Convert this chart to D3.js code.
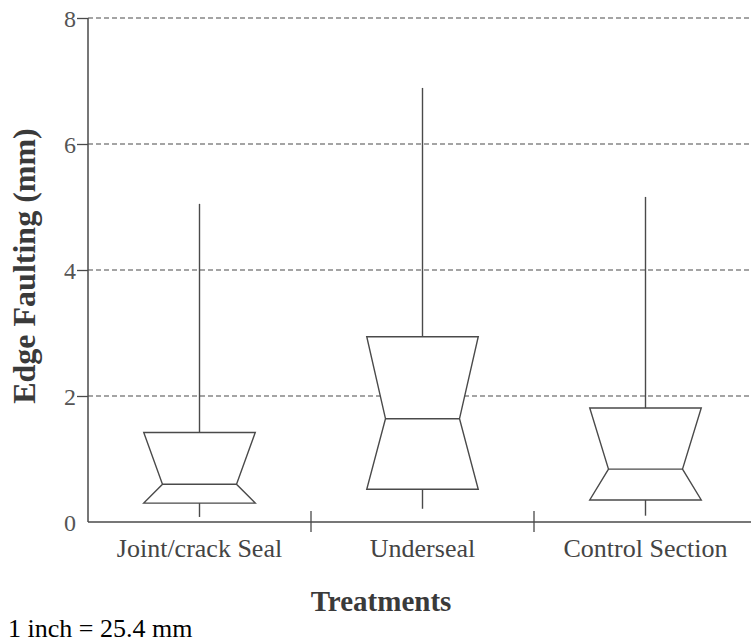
<!DOCTYPE html>
<html>
<head>
<meta charset="utf-8">
<script src="https://cdn.jsdelivr.net/npm/d3@7"></script>
<style>
  html, body { margin: 0; padding: 0; background: #fff; }
  svg { display: block; }
</style>
</head>
<body>
<div id="chart"></div>
<script>
// ---- data ----
const categories = ["Joint/crack Seal", "Underseal", "Control Section"];
const whiskerMin = [0.08, 0.21, 0.10];
const q1 = [0.30, 0.52, 0.35];
const median = [0.60, 1.64, 0.84];
const q3 = [1.42, 2.94, 1.81];
const whiskerMax = [5.05, 6.89, 5.16];
const yTicks = [0, 2, 4, 6, 8];
const gridTicks = [2, 4, 6, 8];

const W = 751, H = 643;
const svg = d3.select("#chart").append("svg").attr("width", W).attr("height", H);

const x = d3.scaleBand().domain(categories).range([88, 757]).paddingInner(0).paddingOuter(0);
const y = d3.scaleLinear().domain([0, 8]).range([522, 18]);

const lineColor = "#4a4a4a";
const textColor = "#3a3a3a";
const serif = "'Liberation Serif', 'Times New Roman', serif";

// gridlines
svg.append("g").selectAll("line").data(gridTicks).join("line")
  .attr("x1", 88).attr("x2", W)
  .attr("y1", d => y(d)).attr("y2", d => y(d))
  .attr("stroke", lineColor).attr("stroke-width", 1.2)
  .attr("stroke-dasharray", "5,3");

// y axis
const yAxis = d3.axisLeft(y).tickValues(yTicks).tickSize(11).tickPadding(2).tickFormat(d3.format("d"));
const gy = svg.append("g").attr("transform", "translate(88,0)").call(yAxis);
gy.select(".domain").attr("stroke", lineColor).attr("stroke-width", 1.5).attr("d", `M0,${y(8)}V${y(0)}`);
gy.selectAll(".tick line").attr("stroke", lineColor).attr("stroke-width", 1.3)
  .attr("display", d => d === 0 ? "none" : null);
gy.selectAll(".tick text").attr("font-family", serif).attr("font-size", 24).attr("fill", "#555")
  .attr("dy", "0.35em").attr("x", -12);

// x axis
svg.append("line").attr("x1", 88).attr("x2", W).attr("y1", y(0)).attr("y2", y(0))
  .attr("stroke", lineColor).attr("stroke-width", 1.5);
const boundaries = categories.slice(1).map(c => x(c));
svg.append("g").selectAll("line").data(boundaries).join("line")
  .attr("x1", d => d).attr("x2", d => d)
  .attr("y1", y(0) - 11).attr("y2", y(0) + 10)
  .attr("stroke", lineColor).attr("stroke-width", 1.3);
svg.append("g").selectAll("text").data(categories).join("text")
  .attr("x", d => x(d) + x.bandwidth() / 2).attr("y", 557)
  .attr("text-anchor", "middle").attr("font-family", serif).attr("font-size", 26)
  .attr("fill", "#444").text(d => d);

// boxes
const bw = x.bandwidth();
const half = bw * 0.25;
const notch = bw * 0.166;
const boxes = categories.map((c, i) => ({
  c, cx: x(c) + bw / 2, lo: whiskerMin[i], q1: q1[i], med: median[i], q3: q3[i], hi: whiskerMax[i]
}));
const g = svg.append("g").attr("stroke", lineColor).attr("stroke-width", 1.4).attr("fill", "none");
boxes.forEach(b => {
  g.append("line").attr("x1", b.cx).attr("x2", b.cx).attr("y1", y(b.q3)).attr("y2", y(b.hi));
  g.append("line").attr("x1", b.cx).attr("x2", b.cx).attr("y1", y(b.q1)).attr("y2", y(b.lo));
  const pts = [
    [b.cx - half, y(b.q3)], [b.cx + half, y(b.q3)],
    [b.cx + notch, y(b.med)], [b.cx + half, y(b.q1)],
    [b.cx - half, y(b.q1)], [b.cx - notch, y(b.med)]
  ];
  g.append("path").attr("d", d3.line()(pts) + "Z").attr("fill", "#fff");
  g.append("line").attr("x1", b.cx - notch).attr("x2", b.cx + notch)
    .attr("y1", y(b.med)).attr("y2", y(b.med));
});

// axis titles
svg.append("text").attr("transform", `translate(35,${(y(0)+y(8))/2 - 4}) rotate(-90)`)
  .attr("text-anchor", "middle").attr("font-family", serif).attr("font-weight", "bold")
  .attr("font-size", 32).attr("fill", textColor).text("Edge Faulting (mm)");
svg.append("text").attr("x", 381).attr("y", 611).attr("text-anchor", "middle")
  .attr("font-family", serif).attr("font-weight", "bold").attr("font-size", 29)
  .attr("fill", textColor).text("Treatments");
svg.append("text").attr("x", 8).attr("y", 637)
  .attr("font-family", serif).attr("font-size", 26).attr("fill", "#000").text("1 inch = 25.4 mm");
</script>
</body>
</html>
